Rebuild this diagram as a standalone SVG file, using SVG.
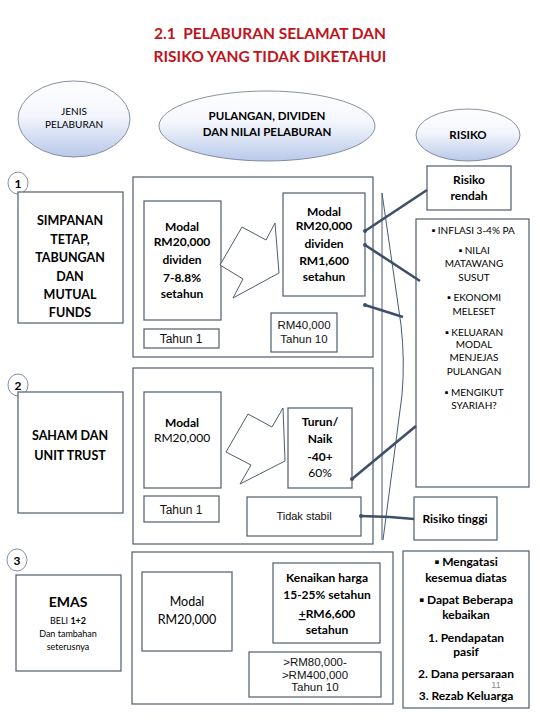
<svg xmlns="http://www.w3.org/2000/svg" width="540" height="720" viewBox="0 0 540 720">
<defs>
<linearGradient id="ell" x1="0" y1="0" x2="0" y2="1">
<stop offset="0" stop-color="#ffffff"/>
<stop offset="0.45" stop-color="#f3f6fc"/>
<stop offset="1" stop-color="#b9c9ea"/>
</linearGradient>
<marker id="dot" viewBox="0 0 6 6" refX="3" refY="3" markerWidth="4" markerHeight="4" markerUnits="userSpaceOnUse">
<circle cx="3" cy="3" r="3" fill="#3e5068"/>
</marker>
<style>
.ell{fill:url(#ell);stroke:#6a7588;stroke-width:0.8}
.box{fill:#ffffff;stroke:#4f5d6c;stroke-width:1.2}
.cont{fill:none;stroke:#4f5d6c;stroke-width:1.2}
.num{fill:#ffffff;stroke:#6a7588;stroke-width:0.8}
.c{font-family:Lato,"Open Sans","Liberation Sans",sans-serif;fill:#000;text-anchor:middle}
.a{font-family:"Liberation Sans",Arial,sans-serif;fill:#111;text-anchor:middle}
.b{font-weight:bold}
.title{font-family:Lato,"Liberation Sans",sans-serif;font-weight:bold;font-size:15.5px;fill:#c0141c;text-anchor:middle}
.con{stroke:#3e5068;stroke-width:2.6;fill:none;marker-end:url(#dot)}
.thin{stroke:#4a5a70;stroke-width:1;fill:none}
.zig{fill:#ffffff;stroke:#4f5d6c;stroke-width:1}
</style>
</defs>

<g id="title">
<text class="title" x="270" y="39" xml:space="preserve">2.1  PELABURAN SELAMAT DAN</text>
<text class="title" x="270" y="62">RISIKO YANG TIDAK DIKETAHUI</text>
</g>

<g id="h-jenis">
<ellipse class="ell" cx="74" cy="119" rx="56" ry="38"/>
<text class="c" font-size="10" x="74" y="115">JENIS</text>
<text class="c" font-size="10" x="74" y="128">PELABURAN</text>
</g>
<g id="h-pulangan">
<ellipse class="ell" cx="267" cy="126" rx="108" ry="35"/>
<text class="c b" font-size="11.5" x="267" y="120">PULANGAN, DIVIDEN</text>
<text class="c b" font-size="11.5" x="267" y="136">DAN NILAI PELABURAN</text>
</g>
<g id="h-risiko">
<ellipse class="ell" cx="468" cy="135" rx="52" ry="26"/>
<text class="c b" font-size="11.5" x="468" y="139">RISIKO</text>
</g>

<g id="n1">
<ellipse class="num" cx="18" cy="183" rx="10" ry="11"/>
<text class="c b" font-size="12" x="18" y="188">1</text>
</g>
<g id="n2">
<ellipse class="num" cx="18" cy="385" rx="10" ry="11"/>
<text class="c b" font-size="12" x="18" y="390">2</text>
</g>
<g id="n3">
<ellipse class="num" cx="17" cy="560" rx="10" ry="11"/>
<text class="c b" font-size="12" x="17" y="565">3</text>
</g>

<g id="jenis1">
<rect class="box" x="18" y="192" width="105" height="131"/>
<text class="c b" font-size="12.5" x="70" y="225">SIMPANAN</text>
<text class="c b" font-size="12.5" x="70" y="244">TETAP,</text>
<text class="c b" font-size="12.5" x="70" y="262">TABUNGAN</text>
<text class="c b" font-size="12.5" x="70" y="281">DAN</text>
<text class="c b" font-size="12.5" x="70" y="299">MUTUAL</text>
<text class="c b" font-size="12.5" x="70" y="317">FUNDS</text>
</g>
<g id="jenis2">
<rect class="box" x="18" y="392" width="105" height="121"/>
<text class="c b" font-size="12.5" x="70" y="440">SAHAM DAN</text>
<text class="c b" font-size="12.5" x="70" y="460">UNIT TRUST</text>
</g>
<g id="jenis3">
<rect class="box" x="16" y="575" width="105" height="96"/>
<text class="c b" font-size="14" x="68" y="607">EMAS</text>
<text class="c" font-size="9" x="68" y="624">BELI <tspan font-weight="bold">1+2</tspan></text>
<text class="c" font-size="9" x="68" y="637">Dan tambahan</text>
<text class="c" font-size="9" x="68" y="650">seterusnya</text>
</g>

<g id="group1">
<rect class="cont" x="133" y="177" width="240" height="180"/>
<rect class="box" x="144" y="201" width="77" height="119"/>
<text class="c b" font-size="12" x="182" y="231">Modal</text>
<text class="c b" font-size="12" x="182" y="246">RM20,000</text>
<text class="c b" font-size="12" x="182" y="264">dividen</text>
<text class="c b" font-size="12" x="182" y="282">7-8.8%</text>
<text class="c b" font-size="12" x="182" y="298">setahun</text>
<rect class="box" x="144" y="329" width="75" height="19"/>
<text class="a" font-size="12" x="181" y="343">Tahun 1</text>
<polygon class="zig" points="220,265 242,227 266,240 275,223 279,273 233,298 243,279"/>
<rect class="box" x="283" y="193" width="82" height="103"/>
<text class="c b" font-size="12" x="324" y="216">Modal</text>
<text class="c b" font-size="12" x="324" y="230">RM20,000</text>
<text class="c b" font-size="12" x="324" y="248">dividen</text>
<text class="c b" font-size="12" x="324" y="265">RM1,600</text>
<text class="c b" font-size="12" x="324" y="281">setahun</text>
<rect class="box" x="271" y="313" width="66" height="39"/>
<text class="a" font-size="11.5" x="304" y="329">RM40,000</text>
<text class="a" font-size="11.5" x="304" y="343">Tahun 10</text>
</g>

<g id="group2">
<rect class="cont" x="133" y="368" width="240" height="176"/>
<rect class="box" x="144" y="392" width="77" height="96"/>
<text class="c b" font-size="12" x="182" y="427">Modal</text>
<text class="c" font-size="12" x="182" y="442">RM20,000</text>
<rect class="box" x="144" y="496" width="75" height="26"/>
<text class="a" font-size="12" x="181" y="514">Tahun 1</text>
<polygon class="zig" points="226,452 248,414 272,427 283,408 285,461 240,484 251,465"/>
<rect class="box" x="288" y="408" width="64" height="80"/>
<text class="c b" font-size="12" x="320" y="426">Turun/</text>
<text class="c b" font-size="12" x="320" y="443">Naik</text>
<text class="c b" font-size="12" x="320" y="461">-40+</text>
<text class="c" font-size="12" x="320" y="477">60%</text>
<rect class="box" x="247" y="497" width="114" height="39"/>
<text class="a" font-size="11" x="304" y="520">Tidak stabil</text>
</g>

<g id="group3">
<rect class="cont" x="132" y="552" width="261" height="152"/>
<rect class="box" x="142" y="572" width="90" height="79"/>
<text class="c" font-size="12.5" x="187" y="606">Modal</text>
<text class="c" font-size="12.5" x="187" y="624">RM20,000</text>
<rect class="box" x="273" y="563" width="107" height="80"/>
<text class="c b" font-size="12" x="327" y="582">Kenaikan harga</text>
<text class="c b" font-size="12" x="327" y="599">15-25% setahun</text>
<text class="c b" font-size="12" x="327" y="618"><tspan text-decoration="underline">+</tspan>RM6,600</text>
<text class="c b" font-size="12" x="327" y="634">setahun</text>
<rect class="box" x="249" y="652" width="132" height="45"/>
<text class="a" font-size="11.5" x="315" y="666">&gt;RM80,000-</text>
<text class="a" font-size="11.5" x="315" y="679">&gt;RM400,000</text>
<text class="a" font-size="11.5" x="315" y="691">Tahun  10</text>
</g>

<g id="risiko-rendah">
<rect class="box" x="427" y="166" width="84" height="44"/>
<text class="c b" font-size="12" x="469" y="184">Risiko</text>
<text class="c b" font-size="12" x="469" y="200">rendah</text>
</g>
<g id="risiko-list">
<rect class="box" x="416" y="219" width="113" height="268"/>
<text class="c" font-size="10" x="473" y="234">▪ INFLASI 3-4% PA</text>
<text class="c" font-size="10" x="474" y="254">▪ NILAI</text>
<text class="c" font-size="10" x="474" y="267">MATAWANG</text>
<text class="c" font-size="10" x="474" y="281">SUSUT</text>
<text class="c" font-size="10" x="474" y="301">▪ EKONOMI</text>
<text class="c" font-size="10" x="474" y="315">MELESET</text>
<text class="c" font-size="10" x="474" y="336">▪ KELUARAN</text>
<text class="c" font-size="10" x="474" y="348">MODAL</text>
<text class="c" font-size="10" x="474" y="361">MENJEJAS</text>
<text class="c" font-size="10" x="474" y="375">PULANGAN</text>
<text class="c" font-size="10" x="474" y="396">▪ MENGIKUT</text>
<text class="c" font-size="10" x="474" y="409">SYARIAH?</text>
</g>
<g id="risiko-tinggi">
<rect class="box" x="414" y="497" width="83" height="43"/>
<text class="c b" font-size="12" x="455" y="523">Risiko tinggi</text>
</g>
<g id="kebaikan">
<rect class="box" x="403" y="551" width="126" height="157"/>
<text class="c b" font-size="12" x="466" y="566">▪ Mengatasi</text>
<text class="c b" font-size="12" x="466" y="582">kesemua diatas</text>
<text class="c b" font-size="12" x="466" y="604">▪ Dapat Beberapa</text>
<text class="c b" font-size="12" x="466" y="619">kebaikan</text>
<text class="c b" font-size="12" x="466" y="642">1. Pendapatan</text>
<text class="c b" font-size="12" x="466" y="656">pasif</text>
<text class="c b" font-size="12" x="466" y="678">2. Dana persaraan</text>
<text class="c b" font-size="12" x="466" y="700">3. Rezab Keluarga</text>
<text class="a" font-size="9" style="fill:#8a8a8a" x="496" y="688">11</text>
</g>

<g id="connectors">
<path class="thin" d="M382,193 L382,540"/>
<path class="thin" d="M382,193 L401,325 Q405,360 402,395 L383,540"/>
<path class="con" d="M427,190 L365,231"/>
<path class="con" d="M420,281 L365,245"/>
<path class="con" d="M403,317 L365,305"/>
<path class="con" d="M416,426 L352,479"/>
<path class="con" d="M414,519 L390,517 L361,516"/>
</g>
</svg>
